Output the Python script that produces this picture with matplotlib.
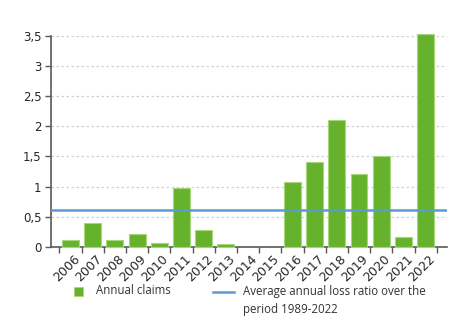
import matplotlib.pyplot as plt
from matplotlib.lines import Line2D
from matplotlib.patches import Rectangle
from matplotlib.ticker import FuncFormatter
import numpy as np

plt.rcParams['font.family'] = 'DejaVu Sans'

years = ['2006', '2007', '2008', '2009', '2010', '2011', '2012', '2013', '2014',
         '2015', '2016', '2017', '2018', '2019', '2020', '2021', '2022']
claims = [0.11, 0.39, 0.11, 0.22, 0.07, 0.97, 0.28, 0.055, 0, 0,
          1.08, 1.41, 2.11, 1.21, 1.51, 0.17, 3.52]
avg_loss_ratio = 0.61
yticks = [0, 0.5, 1, 1.5, 2, 2.5, 3, 3.5]

bar_color = '#66b22c'
edge_color = '#a6d77a'
line_color = '#5b9bd5'
spine_color = '#595959'

fig = plt.figure(figsize=(4.57, 3.24), dpi=100)
ax = fig.add_axes([0.112, 0.238, 0.866, 0.652])

x = np.arange(len(years))
bars = ax.bar(x, claims, width=0.76, color=bar_color, edgecolor=edge_color,
              linewidth=0.8, zorder=3)
for b, v in zip(bars, claims):
    b.set_clip_on(False)
    if v == 0:
        b.set_visible(False)
ax.axhline(avg_loss_ratio, color=line_color, linewidth=1.8, zorder=4)

ax.set_xlim(-0.87, len(years) - 0.04)
ax.set_ylim(0, 3.5)
ax.set_yticks(yticks)
ax.yaxis.set_major_formatter(FuncFormatter(lambda v, p: ('%g' % v).replace('.', ',')))

# ticks sit on the category boundaries, labels at the centres
ax.set_xticks(np.arange(len(years) + 1) - 0.5)
ax.set_xticklabels([])
ax.set_xticks(x + 0.12, minor=True)
ax.set_xticklabels(years, minor=True, rotation=45, ha='right',
                   rotation_mode='anchor', fontsize=9, color='#262626')
ax.tick_params(axis='x', which='minor', length=0, pad=4)
ax.tick_params(axis='x', which='major', length=4, width=1, color=spine_color)
ax.tick_params(axis='y', length=4, width=1, color=spine_color, labelsize=8.5,
               labelcolor='#262626', pad=3)

ax.grid(axis='y', linestyle=(0, (2, 2)), color='#d0d0d0', linewidth=0.9, zorder=0)
for side in ['top', 'right']:
    ax.spines[side].set_visible(False)
for side in ['left', 'bottom']:
    ax.spines[side].set_color(spine_color)
    ax.spines[side].set_linewidth(1.2)

# legend drawn by hand below the axes
W, H = 457, 324
leg_font = dict(fontsize=8.3, family='Open Sans', color='#333333', va='center')
fig.patches.append(Rectangle((74 / W, 1 - 296 / H), 9 / W, 9 / H, transform=fig.transFigure,
                             facecolor=bar_color, edgecolor=edge_color, linewidth=0.6))
fig.text(96 / W, 1 - 291 / H, 'Annual claims', **leg_font)
fig.lines.append(Line2D([213 / W, 234 / W], [1 - 292 / H, 1 - 292 / H],
                        transform=fig.transFigure, color=line_color, linewidth=1.8))
fig.text(243 / W, 1 - 291 / H, 'Average annual loss ratio over the', **leg_font)
fig.text(243 / W, 1 - 309 / H, 'period 1989-2022', **leg_font)

fig.savefig('out.png', dpi=100)
